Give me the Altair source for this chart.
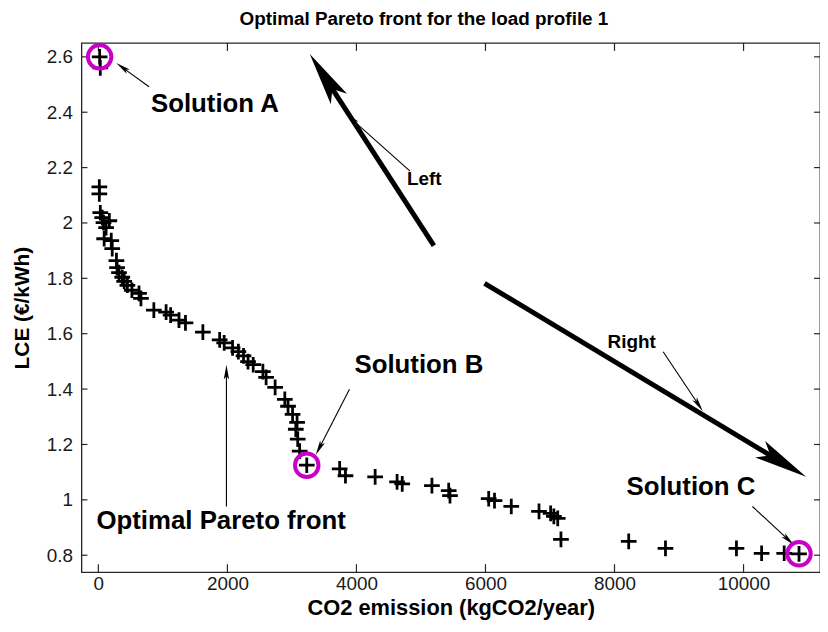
import math
import altair as alt
import pandas as pd

# ---------------- data ----------------
front_x = [20, 30, 15, 15, 30, 60, 80, 120, 170, 90,
           200, 215, 280, 290, 320, 370, 400, 450, 520, 630,
           660, 860, 1050, 1120, 1250, 1350, 1620, 1880, 1950, 2080,
           2170, 2250, 2320, 2400, 2550, 2600, 2740, 2890, 2940, 3010,
           3080, 3060, 3090, 3120, 3230, 3740, 3830, 4290, 4630, 4710,
           5170, 5430, 5450, 6050, 6140, 6400, 6830, 7010, 7060, 7120,
           7170, 8220, 8790, 9890, 10280, 10630, 10860]
front_y = [2.60, 2.56, 2.13, 2.105, 2.037, 2.019, 2.001, 1.983, 2.008, 1.943,
           1.936, 1.907, 1.864, 1.839, 1.821, 1.804, 1.789, 1.775, 1.757, 1.746,
           1.728, 1.685, 1.678, 1.667, 1.649, 1.639, 1.606, 1.578, 1.567, 1.549,
           1.535, 1.520, 1.499, 1.488, 1.463, 1.442, 1.406, 1.363, 1.338, 1.309,
           1.280, 1.255, 1.219, 1.176, 1.125, 1.112, 1.087, 1.083, 1.065, 1.058,
           1.051, 1.033, 1.015, 1.004, 0.997, 0.976, 0.958, 0.951, 0.940, 0.933,
           0.857, 0.850, 0.825, 0.825, 0.807, 0.807, 0.805]

sol_x = [20, 3230, 10860]
sol_y = [2.60, 1.125, 0.805]

x_ticks = [0, 2000, 4000, 6000, 8000, 10000]
y_ticks = [0.8, 1.0, 1.2, 1.4, 1.6, 1.8, 2.0, 2.2, 2.4, 2.6]

label_text = ["Solution A", "Solution B", "Solution C", "Optimal Pareto front", "Left", "Right"]
label_x = [815, 3969, 8185, -30, 4785, 7892]
label_y = [2.431, 1.488, 1.047, 0.922, 2.158, 1.571]
label_size = [26, 26, 26, 26, 19, 19]

arrow_tail_x = [785, 4831, 8754, 3892, 1985, 10138, 5200, 5985]
arrow_tail_y = [2.492, 2.187, 1.535, 1.399, 0.976, 0.976, 1.918, 1.782]
arrow_tip_x = [277, 3831, 9369, 3369, 1985, 10785, 3277, 10969]
arrow_tip_y = [2.578, 2.395, 1.320, 1.162, 1.488, 0.836, 2.610, 1.083]
arrow_thick = [False, False, False, False, False, False, True, True]

# ---------------- layout ----------------
X_DOMAIN = [-262, 11185]
Y_DOMAIN = [0.739, 2.65]
W, H = 744, 533
kx = W / (X_DOMAIN[1] - X_DOMAIN[0])
ky = H / (Y_DOMAIN[1] - Y_DOMAIN[0])

xs = alt.Scale(domain=X_DOMAIN, nice=False, zero=False)
ys = alt.Scale(domain=Y_DOMAIN, nice=False, zero=False)

FONT = "Liberation Sans"
PLUS = "M-1,0H1M0,-1V1"
HEAD = "M0,0L-0.36,2L0,1.55L0.36,2Z"

# arrows: shaft + head (angle from geometry)
shaft_rows, head_rows = [], []
for tx, ty, hx, hy, thick in zip(arrow_tail_x, arrow_tail_y, arrow_tip_x, arrow_tip_y, arrow_thick):
    dx = (hx - tx) * kx
    dy = -(hy - ty) * ky
    L = math.hypot(dx, dy)
    ang = math.degrees(math.atan2(dx, -dy)) % 360
    head_len = 54 if thick else 15
    back = head_len * 0.7
    ex = hx - (hx - tx) * back / L
    ey = hy - (hy - ty) * back / L
    shaft_rows.append({"x": tx, "y": ty, "x2": ex, "y2": ey,
                       "w": 5.0 if thick else 1.1})
    # path spans 2 units * r with r = sqrt(size)/2, so length = sqrt(size)
    head_rows.append({"x": hx, "y": hy, "ang": ang, "s": head_len ** 2, "thick": thick})

heads = pd.DataFrame(head_rows)
shafts = pd.DataFrame(shaft_rows)

front = pd.DataFrame({"x": front_x, "y": front_y})
sols = pd.DataFrame({"x": sol_x, "y": sol_y})
labels = pd.DataFrame({"x": label_x, "y": label_y, "t": label_text, "fs": label_size})
xt = pd.DataFrame({"v": x_ticks})
yt = pd.DataFrame({"v": y_ticks})

FRAME = "#262626"

points = alt.Chart(front).mark_point(
    shape=PLUS, size=250, strokeWidth=2.8, color="black", opacity=1
).encode(
    x=alt.X("x:Q", scale=xs, title="CO2 emission (kgCO2/year)",
            axis=alt.Axis(values=x_ticks, format="d", grid=False, ticks=False, tickSize=0,
                          domain=False, labelPadding=3, titlePadding=4)),
    y=alt.Y("y:Q", scale=ys, title="LCE (€/kWh)",
            axis=alt.Axis(values=y_ticks, format=".1~f", grid=False, ticks=False, tickSize=0,
                          domain=False, labelPadding=9, titlePadding=14, titleFontSize=21)),
)

circles = alt.Chart(sols).mark_point(
    shape="circle", size=560, strokeWidth=4, color="#c800c8", filled=False, opacity=1
).encode(x=alt.X("x:Q", scale=xs), y=alt.Y("y:Q", scale=ys))

shaft = alt.Chart(shafts).mark_rule(color="black", strokeCap="butt").encode(
    x=alt.X("x:Q", scale=xs), y=alt.Y("y:Q", scale=ys),
    x2="x2:Q", y2="y2:Q",
    strokeWidth=alt.StrokeWidth("w:Q", scale=None),
)

hd = alt.Chart(heads).mark_point(shape=HEAD, filled=True, color="black", opacity=1).encode(
    x=alt.X("x:Q", scale=xs), y=alt.Y("y:Q", scale=ys),
    angle=alt.Angle("ang:Q", scale=None), size=alt.Size("s:Q", scale=None),
)

texts = alt.Chart(labels).mark_text(
    align="left", baseline="middle", font=FONT, fontWeight="bold", color="black"
).encode(
    x=alt.X("x:Q", scale=xs), y=alt.Y("y:Q", scale=ys), text="t:N",
    size=alt.Size("fs:Q", scale=None),
)

xt_bot = alt.Chart(xt).mark_rule(color=FRAME, strokeWidth=1.2).encode(
    x=alt.X("v:Q", scale=xs), y=alt.value(H), y2=alt.value(H - 8))
xt_top = alt.Chart(xt).mark_rule(color=FRAME, strokeWidth=1.2).encode(
    x=alt.X("v:Q", scale=xs), y=alt.value(0), y2=alt.value(8))
yt_left = alt.Chart(yt).mark_rule(color=FRAME, strokeWidth=1.2).encode(
    y=alt.Y("v:Q", scale=ys), x=alt.value(0), x2=alt.value(6))
yt_right = alt.Chart(yt).mark_rule(color=FRAME, strokeWidth=1.2).encode(
    y=alt.Y("v:Q", scale=ys), x=alt.value(W), x2=alt.value(W - 6))

chart = alt.layer(
    xt_bot, xt_top, yt_left, yt_right, shaft, hd, points, circles, texts
).properties(
    width=W, height=H,
    title=alt.TitleParams("Optimal Pareto front for the load profile 1", fontSize=19,
                          font=FONT, fontWeight="bold", color="black", dx=-27, offset=8),
    autosize=alt.AutoSizeParams(type="none"),
    padding={"left": 74, "top": 33, "right": 0, "bottom": 48},
).configure_view(
    stroke=FRAME, strokeWidth=1.3
).configure_axis(
    labelFont=FONT, labelFontSize=19, labelColor="#1a1a1a",
    titleFont=FONT, titleFontSize=22, titleFontWeight="bold", titleColor="black",
)

chart.save("out.html", embed_options={"renderer": "svg", "actions": False})
